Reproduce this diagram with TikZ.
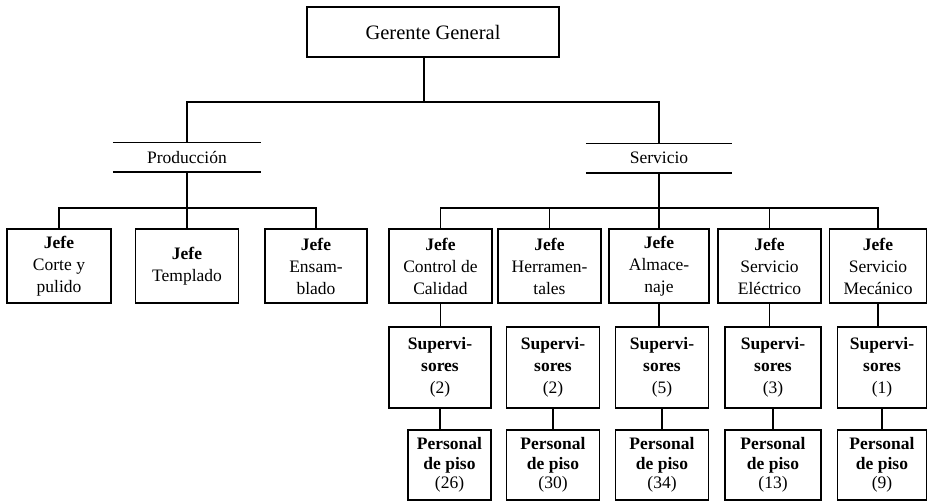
\documentclass[tikz,border=0pt]{standalone}
\usepackage{fontspec}
\setmainfont{Liberation Serif}

\tikzset{
    box/.style={draw, line width=1.5pt, align=center, inner sep=0pt,
        font=\fontsize{17.5}{22}\selectfont},
    jefe/.style={box, minimum height=74},
    superv/.style={box, minimum height=81},
    piso/.style={box, minimum height=70, font=\fontsize{17.5}{19.5}\selectfont},
    area/.style={minimum height=28, inner sep=0pt, font=\fontsize{17.5}{22}\selectfont},
}

\begin{document}
\begin{tikzpicture}[x=1pt, y=-1pt, line width=1.5pt]
    \useasboundingbox (0,0) rectangle (928,501);

    \node[box, minimum width=252, minimum height=50,
        font=\fontsize{20.5}{24}\selectfont] (gg) at (433,32) {Gerente General};

    \node[area, minimum width=147] (prod) at (187,157) {Producción};
    \node[area, minimum width=145] (serv) at (659,158) {Servicio};
    \draw (prod.north west) -- (prod.north east)
          (prod.south west) -- (prod.south east);
    \draw (serv.north west) -- (serv.north east)
          (serv.south west) -- (serv.south east);

    % produccion
    \node[jefe, minimum width=104] (corte) at (59,266) {\textbf{Jefe}\\Corte y\\pulido};
    \node[jefe, minimum width=103] (templ) at (187,266) {\textbf{Jefe}\\Templado};
    \node[jefe, minimum width=102] (ensam) at (316,266) {\textbf{Jefe}\\Ensam-\\blado};

    % servicio
    \node[jefe, minimum width=103] (calid) at (440.5,266) {\textbf{Jefe}\\Control de\\Calidad};
    \node[jefe, minimum width=103] (herra) at (549.5,266) {\textbf{Jefe}\\Herramen-\\tales};
    \node[jefe, minimum width=100] (almac) at (659,266) {\textbf{Jefe}\\Almace-\\naje};
    \node[jefe, minimum width=103] (elect) at (769.5,266) {\textbf{Jefe}\\Servicio\\Eléctrico};
    \node[jefe, minimum width=97] (mecan) at (878,266) {\textbf{Jefe}\\Servicio\\Mecánico};

    \node[superv, minimum width=102] (sup1) at (440,367.5) {\textbf{Supervi-}\\\textbf{sores}\\(2)};
    \node[superv, minimum width=93] (sup2) at (553,367.5) {\textbf{Supervi-}\\\textbf{sores}\\(2)};
    \node[superv, minimum width=93] (sup3) at (662,367.5) {\textbf{Supervi-}\\\textbf{sores}\\(5)};
    \node[superv, minimum width=96] (sup4) at (773,367.5) {\textbf{Supervi-}\\\textbf{sores}\\(3)};
    \node[superv, minimum width=89] (sup5) at (882,367.5) {\textbf{Supervi-}\\\textbf{sores}\\(1)};

    \node[piso, minimum width=83] (per1) at (449.5,465) {\textbf{Personal}\\\textbf{de piso}\\(26)};
    \node[piso, minimum width=93] (per2) at (553,465) {\textbf{Personal}\\\textbf{de piso}\\(30)};
    \node[piso, minimum width=93] (per3) at (662,465) {\textbf{Personal}\\\textbf{de piso}\\(34)};
    \node[piso, minimum width=96] (per4) at (773,465) {\textbf{Personal}\\\textbf{de piso}\\(13)};
    \node[piso, minimum width=89] (per5) at (882,465) {\textbf{Personal}\\\textbf{de piso}\\(9)};

    % lineas
    \draw ([xshift=-9pt]gg.south) -- ++(0,44) coordinate (bus);
    \draw (bus) -| (prod.north);
    \draw (bus) -| (serv.north);

    \draw (prod.south) -- ++(0,36) coordinate (pbus);
    \draw (pbus) -| (corte.north);
    \draw (pbus) -| (ensam.north);
    \draw (pbus) -- (templ.north);

    \draw (serv.south) -- ++(0,35) coordinate (sbus);
    \draw (sbus) -| (calid.north);
    \draw (sbus) -| (herra.north);
    \draw (sbus) -| (elect.north);
    \draw (sbus) -| (mecan.north);
    \draw (sbus) -- (almac.north);

    \draw (calid.south) -- (calid.south |- sup1.north);
    \draw (almac.south) -- (almac.south |- sup3.north);
    \draw (elect.south) -- (elect.south |- sup4.north);
    \draw (mecan.south) -- (mecan.south |- sup5.north);

    \draw (sup1.south) -- (sup1.south |- per1.north);
    \draw (sup2.south) -- (sup2.south |- per2.north);
    \draw (sup3.south) -- (sup3.south |- per3.north);
    \draw (sup4.south) -- (sup4.south |- per4.north);
    \draw (sup5.south) -- (sup5.south |- per5.north);
\end{tikzpicture}
\end{document}
